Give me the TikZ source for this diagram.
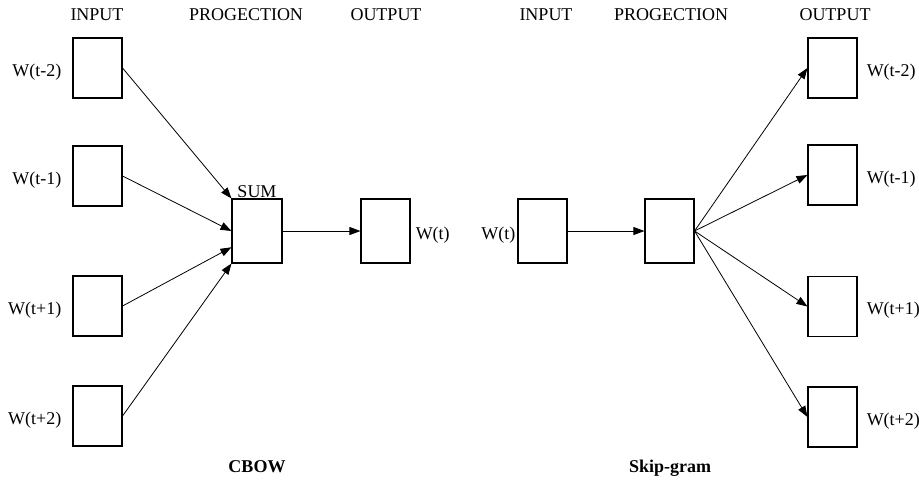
\documentclass[tikz,border=0pt]{standalone}
\usepackage{fontspec}
\setmainfont{Liberation Serif}
\usetikzlibrary{arrows.meta,calc}
\begin{document}
\begin{tikzpicture}[x=1pt,y=-1pt,
  wbox/.style={draw,line width=1.1pt,minimum width=49pt,minimum height=60pt,inner sep=0pt},
  hbox/.style={wbox,minimum height=64pt},
  txt/.style={font=\fontsize{18}{20}\selectfont,inner sep=0pt},
  ttl/.style={font=\fontsize{18}{20}\selectfont\bfseries,inner sep=0pt,anchor=base},
  hdr/.style={txt,anchor=base},
  arr/.style={-{Triangle[length=11pt,width=8pt]},line width=0.8pt},
]
\useasboundingbox (0,0) rectangle (919,482);

% ---------------- CBOW ----------------
\node[hdr] (hinL) at (97,20) {INPUT};
\node[hdr] (hprL) at (246,20) {PROGECTION};
\node[hdr] (houL) at (386,20) {OUTPUT};

\node[wbox] (c1) at (97.5,68) {};
\node[wbox] (c2) at (97.5,176) {};
\node[wbox] (c3) at (97.5,306) {};
\node[wbox] (c4) at (97.5,416) {};
\node[hbox,minimum width=50pt] (sum) at (257,231) {};
\node[hbox] (cout) at (385.5,231) {};

\node[txt,anchor=base east] (lc1) at ($(c1.west)+(-11,8)$) {W(t-2)};
\node[txt,anchor=base east] (lc2) at ($(c2.west)+(-11,8)$) {W(t-1)};
\node[txt,anchor=base east] (lc3) at ($(c3.west)+(-11,8)$) {W(t+1)};
\node[txt,anchor=base east] (lc4) at ($(c4.west)+(-11,8)$) {W(t+2)};
\node[txt,anchor=base] (lsum) at ($(sum.north)+(0,-1)$) {SUM};
\node[txt,anchor=base west] (lcout) at ($(cout.east)+(5,8)$) {W(t)};

\draw[arr] (c1.east) -- (sum.north west);
\draw[arr] (c2.east) -- (sum.west);
\draw[arr] (c3.east) -- ($(sum.south west)!0.25!(sum.north west)$);
\draw[arr] (c4.east) -- (sum.south west);
\draw[arr] (sum.east) -- (cout.west);

\node[ttl] (tcbow) at (257,472) {CBOW};

% ---------------- Skip-gram ----------------
\node[hdr] (hinR) at (546,20) {INPUT};
\node[hdr] (hprR) at (671,20) {PROGECTION};
\node[hdr] (houR) at (835,20) {OUTPUT};

\node[hbox] (sin) at (542.5,231) {};
\node[hbox] (proj) at (669.5,231) {};
\node[wbox] (s1) at (832.5,68) {};
\node[wbox] (s2) at (832.5,175) {};
\node[wbox] (s3) at (832.5,306.5) {};
\node[wbox] (s4) at (832.5,417) {};

\node[txt,anchor=base east] (lsin) at ($(sin.west)+(-2,8)$) {W(t)};
\node[txt,anchor=base west] (ls1) at ($(s1.east)+(9,8)$) {W(t-2)};
\node[txt,anchor=base west] (ls2) at ($(s2.east)+(9,8)$) {W(t-1)};
\node[txt,anchor=base west] (ls3) at ($(s3.east)+(9,8)$) {W(t+1)};
\node[txt,anchor=base west] (ls4) at ($(s4.east)+(9,8)$) {W(t+2)};

\draw[arr] (sin.east) -- (proj.west);
\draw[arr] (proj.east) -- (s1.west);
\draw[arr] (proj.east) -- (s2.west);
\draw[arr] (proj.east) -- (s3.west);
\draw[arr] (proj.east) -- (s4.west);

\node[ttl] (tskip) at (670,472) {Skip-gram};
\end{tikzpicture}
\end{document}
